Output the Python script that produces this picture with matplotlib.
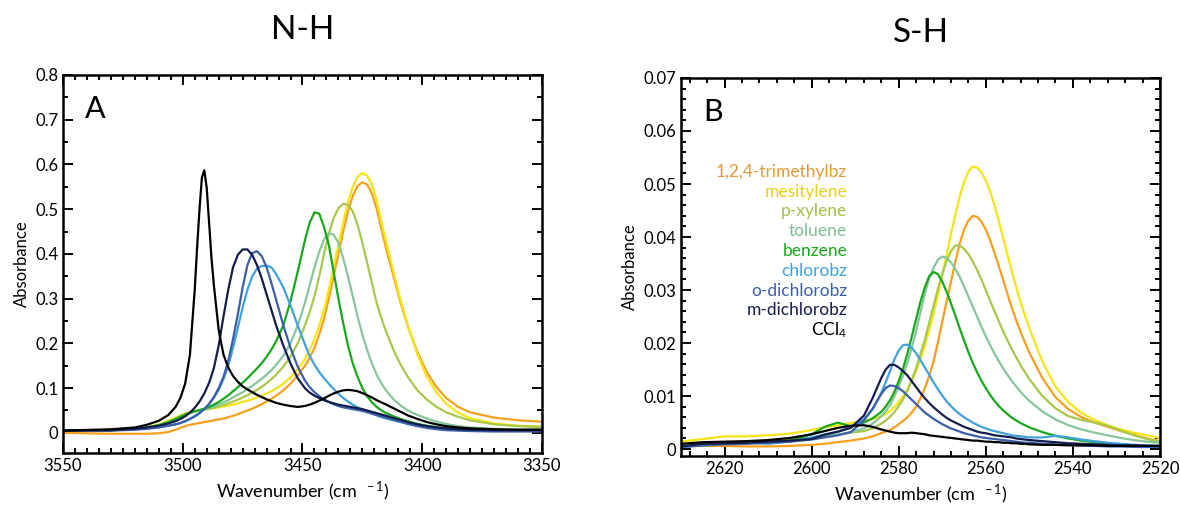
import matplotlib
matplotlib.use("Agg")
import matplotlib.pyplot as plt
from matplotlib.ticker import MultipleLocator

plt.rcParams['font.family'] = ['Lato', 'DejaVu Sans']
plt.rcParams['mathtext.fontset'] = 'custom'
plt.rcParams['mathtext.rm'] = 'Lato'
plt.rcParams['mathtext.it'] = 'Lato:italic'

# solvents, in legend order
solvents = ["1,2,4-trimethylbz", "mesitylene", "p-xylene", "toluene", "benzene",
            "chlorobz", "o-dichlorobz", "m-dichlorobz", "CCl$_4$"]
line_colors = ["#f7a01c", "#f6e413", "#a7c84c", "#86c69a", "#17a81c",
               "#40a2dc", "#3c5fa9", "#141d4e", "#000000"]
text_colors = ["#e39a3a", "#e6d21c", "#a2c04a", "#7fbf94", "#17a81c",
               "#40a2dc", "#3c5fa9", "#141d4e", "#000000"]

# ---- N-H band (panel A) ----
wn_nh = [3550, 3530, 3520, 3515, 3510, 3506, 3503,
         3501, 3499, 3497, 3495, 3494, 3493, 3492, 3491, 3490, 3489, 3488, 3487, 3485, 3483, 3481,
         3479, 3477, 3475, 3473, 3471, 3469, 3467, 3465, 3463, 3461,
         3458, 3455, 3452, 3449,
         3447, 3445, 3443, 3441, 3439, 3437, 3435, 3433, 3431, 3429, 3427, 3425, 3423, 3421, 3419, 3417, 3415,
         3412, 3409, 3406, 3402, 3398, 3394, 3390, 3385, 3380, 3370, 3360, 3350]

nh_trimethyl = [0.0, -0.002, -0.002, -0.002, -0.001, 0.002, 0.007,
                0.011, 0.015, 0.018, 0.020, 0.021, 0.022, 0.023, 0.024, 0.025, 0.026, 0.027, 0.028, 0.030, 0.032, 0.035,
                0.038, 0.042, 0.046, 0.050, 0.054, 0.059, 0.064, 0.070, 0.076, 0.083,
                0.095, 0.11, 0.128, 0.15,
                0.168, 0.19, 0.22, 0.255, 0.30, 0.35, 0.40, 0.45, 0.495, 0.53, 0.552, 0.56, 0.555, 0.535, 0.50, 0.455, 0.41,
                0.35, 0.29, 0.238, 0.18, 0.135, 0.102, 0.078, 0.058, 0.046, 0.034, 0.028, 0.025]
nh_mesitylene = [0.005, 0.006, 0.009, 0.013, 0.019, 0.027, 0.034,
                 0.039, 0.043, 0.047, 0.049, 0.050, 0.051, 0.0515, 0.052, 0.0525, 0.053, 0.054, 0.055, 0.057, 0.059, 0.061,
                 0.063, 0.066, 0.069, 0.072, 0.075, 0.079, 0.083, 0.088, 0.093, 0.099,
                 0.11, 0.124, 0.142, 0.165,
                 0.185, 0.21, 0.24, 0.275, 0.32, 0.37, 0.42, 0.47, 0.515, 0.55, 0.572, 0.581, 0.575, 0.555, 0.52, 0.47, 0.425,
                 0.36, 0.295, 0.24, 0.175, 0.125, 0.09, 0.065, 0.045, 0.033, 0.021, 0.016, 0.014]
nh_pxylene = [0.005, 0.006, 0.009, 0.012, 0.017, 0.024, 0.031,
              0.036, 0.041, 0.045, 0.048, 0.049, 0.050, 0.051, 0.052, 0.053, 0.054, 0.055, 0.056, 0.059, 0.062, 0.066,
              0.070, 0.074, 0.079, 0.084, 0.090, 0.096, 0.103, 0.111, 0.12, 0.13,
              0.148, 0.17, 0.20, 0.24,
              0.27, 0.305, 0.35, 0.40, 0.445, 0.48, 0.502, 0.512, 0.51, 0.495, 0.465, 0.425, 0.38, 0.335, 0.29, 0.255, 0.225,
              0.185, 0.152, 0.125, 0.095, 0.074, 0.058, 0.046, 0.036, 0.028, 0.019, 0.015, 0.013]
nh_toluene = [0.005, 0.006, 0.009, 0.012, 0.017, 0.024, 0.031,
              0.036, 0.041, 0.045, 0.048, 0.049, 0.050, 0.0515, 0.053, 0.0545, 0.056, 0.0575, 0.059, 0.063, 0.068, 0.073,
              0.079, 0.085, 0.091, 0.098, 0.105, 0.113, 0.121, 0.130, 0.140, 0.152,
              0.172, 0.20, 0.24, 0.29,
              0.33, 0.37, 0.405, 0.432, 0.446, 0.443, 0.425, 0.39, 0.35, 0.305, 0.26, 0.22, 0.185, 0.155, 0.13, 0.11, 0.094,
              0.075, 0.061, 0.050, 0.040, 0.032, 0.025, 0.020, 0.015, 0.012, 0.009, 0.008, 0.008]
nh_benzene = [0.005, 0.006, 0.009, 0.012, 0.017, 0.024, 0.031,
              0.036, 0.041, 0.045, 0.048, 0.0495, 0.051, 0.0525, 0.054, 0.056, 0.058, 0.0605, 0.063, 0.069, 0.076, 0.084,
              0.093, 0.102, 0.112, 0.122, 0.133, 0.144, 0.156, 0.170, 0.186, 0.205,
              0.24, 0.295, 0.36, 0.43,
              0.47, 0.493, 0.49, 0.46, 0.42, 0.36, 0.30, 0.245, 0.195, 0.155, 0.125, 0.10, 0.082, 0.068, 0.058, 0.050, 0.044,
              0.037, 0.031, 0.026, 0.020, 0.016, 0.013, 0.011, 0.009, 0.008, 0.007, 0.006, 0.006]
nh_chloro = [0.005, 0.006, 0.008, 0.010, 0.013, 0.016, 0.019,
             0.022, 0.026, 0.031, 0.037, 0.0405, 0.044, 0.0485, 0.053, 0.0585, 0.064, 0.071, 0.078, 0.096, 0.12, 0.15,
             0.19, 0.235, 0.28, 0.32, 0.35, 0.367, 0.373, 0.374, 0.37, 0.355,
             0.325, 0.285, 0.24, 0.198,
             0.172, 0.152, 0.136, 0.122, 0.11, 0.098, 0.087, 0.078, 0.070, 0.063, 0.057, 0.052, 0.047, 0.043, 0.039, 0.035, 0.032,
             0.028, 0.024, 0.020, 0.016, 0.013, 0.010, 0.008, 0.007, 0.006, 0.005, 0.005, 0.005]
nh_odichloro = [0.005, 0.005, 0.007, 0.009, 0.012, 0.016, 0.019,
                0.022, 0.026, 0.031, 0.037, 0.0405, 0.044, 0.0485, 0.053, 0.059, 0.065, 0.0725, 0.08, 0.10, 0.125, 0.16,
                0.21, 0.265, 0.325, 0.375, 0.402, 0.406, 0.395, 0.37, 0.335, 0.298,
                0.24, 0.19, 0.148, 0.117,
                0.102, 0.091, 0.082, 0.075, 0.069, 0.064, 0.060, 0.057, 0.055, 0.053, 0.051, 0.049, 0.046, 0.043, 0.040, 0.037, 0.034,
                0.029, 0.025, 0.020, 0.015, 0.011, 0.008, 0.006, 0.005, 0.004, 0.003, 0.003, 0.003]
nh_mdichloro = [0.005, 0.006, 0.009, 0.012, 0.016, 0.021, 0.026,
                0.031, 0.037, 0.045, 0.056, 0.063, 0.070, 0.079, 0.088, 0.10, 0.112, 0.128, 0.145, 0.195, 0.26, 0.32,
                0.37, 0.398, 0.41, 0.41, 0.398, 0.375, 0.345, 0.31, 0.275, 0.24,
                0.195, 0.155, 0.122, 0.10,
                0.09, 0.083, 0.078, 0.073, 0.069, 0.066, 0.063, 0.061, 0.059, 0.057, 0.055, 0.053, 0.050, 0.047, 0.044, 0.041, 0.038,
                0.033, 0.029, 0.024, 0.019, 0.015, 0.012, 0.010, 0.008, 0.007, 0.006, 0.006, 0.006]
nh_ccl4 = [0.005, 0.008, 0.012, 0.018, 0.027, 0.040, 0.058,
           0.078, 0.11, 0.175, 0.32, 0.415, 0.50, 0.571, 0.587, 0.548, 0.47, 0.39, 0.33, 0.23, 0.175, 0.146,
           0.127, 0.114, 0.104, 0.097, 0.091, 0.085, 0.080, 0.075, 0.071, 0.067,
           0.063, 0.060, 0.058, 0.060,
           0.063, 0.067, 0.072, 0.077, 0.083, 0.088, 0.092, 0.095, 0.096, 0.095, 0.093, 0.089, 0.084, 0.079, 0.073, 0.068, 0.063,
           0.055, 0.047, 0.039, 0.031, 0.024, 0.019, 0.015, 0.012, 0.010, 0.008, 0.007, 0.007]

# ---- S-H band (panel B) ----
wn_sh = [2630, 2625, 2620, 2615, 2610, 2605, 2600, 2597, 2594, 2591, 2588, 2586,
         2584, 2583, 2582, 2581, 2580, 2579, 2578, 2577, 2576, 2575, 2574, 2573,
         2572, 2571, 2570, 2569, 2568, 2567, 2566, 2565, 2564, 2563, 2562, 2561,
         2560, 2559, 2558, 2557, 2556, 2555, 2554, 2553, 2552, 2551, 2550,
         2547, 2544, 2541, 2538, 2535, 2532, 2529, 2526, 2523, 2520]

sh_trimethyl = [0.0005, 0.0006, 0.0006, 0.0005, 0.0005, 0.0006, 0.0008, 0.0010, 0.0013, 0.0016, 0.0020, 0.0024,
                0.0030, 0.0033, 0.0036, 0.0041, 0.0047, 0.0053, 0.0060, 0.0069, 0.0080, 0.0096, 0.0115, 0.0138,
                0.0165, 0.0201, 0.0240, 0.0278, 0.0315, 0.0353, 0.0387, 0.0414, 0.0431, 0.0440, 0.0438, 0.0429,
                0.0414, 0.0394, 0.0370, 0.0345, 0.0319, 0.0292, 0.0266, 0.0243, 0.0221, 0.0201, 0.0182,
                0.0134, 0.0098, 0.0075, 0.0060, 0.0050, 0.0042, 0.0034, 0.0027, 0.0020, 0.0015]
sh_mesitylene = [0.0014, 0.0019, 0.0024, 0.0024, 0.0026, 0.0029, 0.0036, 0.0041, 0.0045, 0.0049, 0.0053, 0.0057,
                 0.0062, 0.0066, 0.0072, 0.0079, 0.0089, 0.0100, 0.0113, 0.0129, 0.0147, 0.0170, 0.0194, 0.0224,
                 0.0255, 0.0290, 0.0328, 0.0365, 0.0405, 0.0441, 0.0476, 0.0503, 0.0523, 0.0533, 0.0531, 0.0522,
                 0.0507, 0.0486, 0.0460, 0.0430, 0.0398, 0.0366, 0.0335, 0.0305, 0.0277, 0.0252, 0.0228,
                 0.0165, 0.0118, 0.0088, 0.0068, 0.0055, 0.0045, 0.0037, 0.0031, 0.0026, 0.0021]
sh_pxylene = [0.0008, 0.0010, 0.0012, 0.0013, 0.0015, 0.0018, 0.0021, 0.0024, 0.0027, 0.0031, 0.0034, 0.0039,
              0.0048, 0.0054, 0.0061, 0.0070, 0.0081, 0.0094, 0.0110, 0.0130, 0.0153, 0.0179, 0.0206, 0.0238,
              0.0270, 0.0302, 0.0330, 0.0355, 0.0373, 0.0384, 0.0384, 0.0378, 0.0368, 0.0354, 0.0338, 0.0320,
              0.0300, 0.0280, 0.0260, 0.0241, 0.0222, 0.0205, 0.0188, 0.0173, 0.0158, 0.0145, 0.0132,
              0.0100, 0.0077, 0.0062, 0.0055, 0.0050, 0.0044, 0.0035, 0.0026, 0.0019, 0.0014]
sh_toluene = [0.0006, 0.0008, 0.0010, 0.0011, 0.0013, 0.0016, 0.0020, 0.0024, 0.0027, 0.0032, 0.0039, 0.0048,
              0.0062, 0.0071, 0.0083, 0.0099, 0.0118, 0.0139, 0.0163, 0.0191, 0.0223, 0.0258, 0.0293, 0.0322,
              0.0342, 0.0357, 0.0363, 0.0361, 0.0352, 0.0340, 0.0325, 0.0307, 0.0288, 0.0269, 0.0250, 0.0231,
              0.0213, 0.0196, 0.0180, 0.0166, 0.0152, 0.0140, 0.0128, 0.0118, 0.0108, 0.0099, 0.0091,
              0.0071, 0.0056, 0.0045, 0.0037, 0.0031, 0.0026, 0.0021, 0.0017, 0.0014, 0.0012]
sh_benzene = [0.0005, 0.0007, 0.0010, 0.0012, 0.0011, 0.0016, 0.0028, 0.0042, 0.0050, 0.0043, 0.0050, 0.0058,
              0.0070, 0.0080, 0.0092, 0.0108, 0.0128, 0.0152, 0.0180, 0.0212, 0.0245, 0.0278, 0.0305, 0.0326,
              0.0334, 0.0330, 0.0316, 0.0297, 0.0275, 0.0252, 0.0228, 0.0205, 0.0183, 0.0163, 0.0145, 0.0129,
              0.0115, 0.0102, 0.0091, 0.0081, 0.0073, 0.0066, 0.0059, 0.0054, 0.0049, 0.0045, 0.0041,
              0.0032, 0.0025, 0.0020, 0.0016, 0.0013, 0.0011, 0.0009, 0.0007, 0.0006, 0.0005]
sh_chloro = [0.0004, 0.0007, 0.0012, 0.0013, 0.0010, 0.0014, 0.0022, 0.0028, 0.0032, 0.0041, 0.0056, 0.0075,
             0.0106, 0.0126, 0.0147, 0.0169, 0.0186, 0.0196, 0.0197, 0.0191, 0.0181, 0.0168, 0.0154, 0.0140,
             0.0126, 0.0113, 0.0101, 0.0090, 0.0081, 0.0073, 0.0066, 0.0060, 0.0055, 0.0050, 0.0046, 0.0042,
             0.0039, 0.0036, 0.0034, 0.0032, 0.0030, 0.0028, 0.0026, 0.0025, 0.0024, 0.0023, 0.0022,
             0.0022, 0.0025, 0.0022, 0.0018, 0.0015, 0.0012, 0.0010, 0.0008, 0.0007, 0.0006]
sh_odichloro = [0.0004, 0.0007, 0.0009, 0.0010, 0.0012, 0.0014, 0.0018, 0.0022, 0.0026, 0.0032, 0.0054, 0.0076,
                0.0104, 0.0115, 0.0120, 0.0119, 0.0115, 0.0109, 0.0101, 0.0093, 0.0085, 0.0077, 0.0069, 0.0063,
                0.0057, 0.0052, 0.0047, 0.0043, 0.0039, 0.0036, 0.0033, 0.0030, 0.0028, 0.0026, 0.0024, 0.0022,
                0.0021, 0.0020, 0.0019, 0.0018, 0.0017, 0.0016, 0.0015, 0.0014, 0.0013, 0.0012, 0.0012,
                0.0010, 0.0009, 0.0008, 0.0007, 0.0006, 0.0005, 0.0005, 0.0004, 0.0004, 0.0004]
sh_mdichloro = [0.0005, 0.0010, 0.0011, 0.0012, 0.0014, 0.0016, 0.0019, 0.0027, 0.0033, 0.0040, 0.0063, 0.0096,
                0.0134, 0.0150, 0.0159, 0.0159, 0.0154, 0.0147, 0.0139, 0.0128, 0.0117, 0.0106, 0.0096, 0.0087,
                0.0079, 0.0072, 0.0065, 0.0059, 0.0054, 0.0050, 0.0046, 0.0042, 0.0039, 0.0036, 0.0033, 0.0031,
                0.0030, 0.0028, 0.0026, 0.0025, 0.0024, 0.0023, 0.0022, 0.0020, 0.0019, 0.0018, 0.0017,
                0.0015, 0.0013, 0.0011, 0.0010, 0.0009, 0.0008, 0.0007, 0.0007, 0.0006, 0.0006]
sh_ccl4 = [0.0010, 0.0013, 0.0014, 0.0015, 0.0017, 0.0021, 0.0028, 0.0034, 0.0040, 0.0044, 0.0045, 0.0042,
           0.0037, 0.0035, 0.0033, 0.0031, 0.0030, 0.0030, 0.0030, 0.0031, 0.0030, 0.0029, 0.0028, 0.0026,
           0.0025, 0.0024, 0.0023, 0.0022, 0.0021, 0.0020, 0.0019, 0.0018, 0.0017, 0.0016, 0.0016, 0.0015,
           0.0014, 0.0014, 0.0013, 0.0013, 0.0012, 0.0012, 0.0011, 0.0011, 0.0010, 0.0010, 0.0009,
           0.0008, 0.0008, 0.0007, 0.0007, 0.0007, 0.0006, 0.0006, 0.0006, 0.0006, 0.0006]

nh_series = [nh_trimethyl, nh_mesitylene, nh_pxylene, nh_toluene, nh_benzene,
             nh_chloro, nh_odichloro, nh_mdichloro, nh_ccl4]
sh_series = [sh_trimethyl, sh_mesitylene, sh_pxylene, sh_toluene, sh_benzene,
             sh_chloro, sh_odichloro, sh_mdichloro, sh_ccl4]

nh_yticks = [0, 0.1, 0.2, 0.3, 0.4, 0.5, 0.6, 0.7, 0.8]
nh_ylabels = ["0", "0.1", "0.2", "0.3", "0.4", "0.5", "0.6", "0.7", "0.8"]
sh_yticks = [0, 0.01, 0.02, 0.03, 0.04, 0.05, 0.06, 0.07]
sh_ylabels = ["0", "0.01", "0.02", "0.03", "0.04", "0.05", "0.06", "0.07"]

fig = plt.figure(figsize=(11.8, 5.08), dpi=100)
axA = fig.add_axes([0.0534, 0.1083, 0.4059, 0.7441])
axB = fig.add_axes([0.5771, 0.1024, 0.4059, 0.7441])

for ys, c in zip(nh_series, line_colors):
    axA.plot(wn_nh, ys, color=c, lw=1.6)
for ys, c in zip(sh_series, line_colors):
    axB.plot(wn_sh, ys, color=c, lw=1.6)

axA.set_xlim(3550, 3350)
axA.set_ylim(-0.045, 0.8)
axA.xaxis.set_major_locator(MultipleLocator(50))
axA.xaxis.set_minor_locator(MultipleLocator(5))
axA.set_yticks(nh_yticks)
axA.set_yticklabels(nh_ylabels)
axA.yaxis.set_minor_locator(MultipleLocator(0.05))

axB.set_xlim(2630, 2520)
axB.set_ylim(-0.0013, 0.07)
axB.xaxis.set_major_locator(MultipleLocator(20))
axB.xaxis.set_minor_locator(MultipleLocator(4))
axB.set_yticks(sh_yticks)
axB.set_yticklabels(sh_ylabels)
axB.yaxis.set_minor_locator(MultipleLocator(0.002))

for ax, title, letter in [(axA, "N-H", "A"), (axB, "S-H", "B")]:
    for s in ax.spines.values():
        s.set_linewidth(1.8)
    ax.tick_params(which='both', direction='in', top=True, right=True, width=1.4, labelsize=12)
    ax.tick_params(which='major', length=7)
    ax.tick_params(which='minor', length=3.5)
    ax.set_title(title, fontsize=24, pad=26)
    ax.text(0.067, 0.91, letter, transform=ax.transAxes, fontsize=22, ha='center', va='center')
    ax.set_xlabel("Wavenumber (cm $^{\\ -1}$)", fontsize=13)
    ax.set_ylabel("Absorbance", fontsize=12)

# solvent labels in panel B
for i, (name, c) in enumerate(zip(solvents, text_colors)):
    axB.text(0.347, 0.752 - i * 0.0524, name, color=c, transform=axB.transAxes,
             ha='right', va='center', fontsize=12.5)

fig.savefig("out.png", dpi=100)
